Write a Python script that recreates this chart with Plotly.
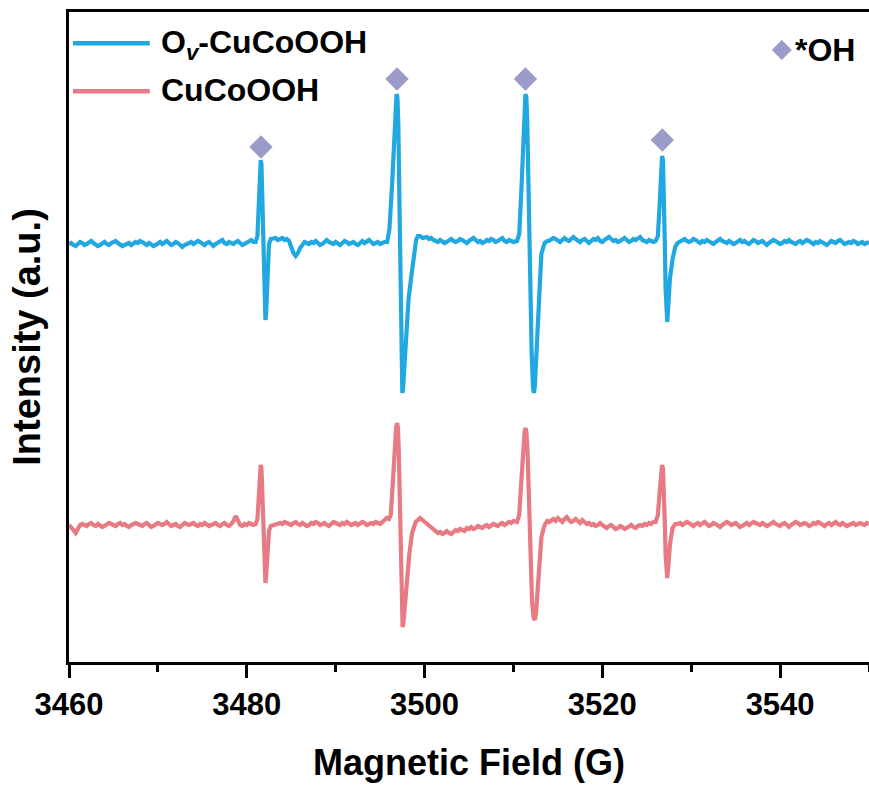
import plotly.graph_objects as go

STEP = 0.25  # G between successive baseline readings

# ---------------- O_v-CuCoOOH (blue), values relative to its baseline ----------------
ov_seg_a_start = 3460.0
ov_seg_a = [0, 1, -1, -2, 0, 2, 1, -1, 0, 1, 3, 1, -1, -2, -1, 1, 2, 0, -1, 1,
            2, 3, 1, 0, -2, -1, 0, 1, -1, 0, 2, 1, 3, 2, 0, -1, 1, 0, -2, -1,
            1, 2, 0, 1, 3, 1, -1, 0, 2, 1, -1, -3, -1, 0, 1, 2, 0, 1, 3, 2,
            0, -1, 1, 2, 0, -2, 0, 1, 3, 4, 1, 0, 2, 1, 0, 2, 3, 1, -1, 0,
            1, 2, 4, 2]
ov_seg_b_start = 3483.0
ov_seg_b = [5, 6, 4, 5, 6, 4, 5, 3,
            -3, -9, -12, -9, -4, 0, 2, 1,
            0, 2, 1, 3, 1, -1, 0, 2, 4, 2, 1, 0, 2, 1, -1, 1, 3, 2, 0, 1,
            2, 0, -1, 1, 3, 1, 2, 4, 2, 0, 1, 2, 0, 1, 2]
ov_seg_c_start = 3500.0
ov_seg_c = [6, 7, 5, 6, 4, 3, 2, 4, 3, 1, 2, 4, 5, 3, 2, 3, 5, 4, 2, 1,
            3, 4, 6, 4, 2, 3, 1, 2, 4, 3, 5, 4, 2, 3, 5, 6, 3, 2, 4, 3, 2]
ov_seg_d_start = 3514.0
ov_seg_d = [3, 4, 6, 5, 3, 2, 4, 6, 4, 3, 5, 7, 5, 3, 2, 4, 5, 3, 1, 3,
            5, 4, 6, 3, 2, 4, 5, 7, 5, 3, 4, 2, 3, 5, 6, 4, 2, 3, 5, 4,
            6, 7, 4, 3, 2, 4, 3, 2]
ov_seg_e_start = 3529.0
ov_seg_e = [4, 5, 3, 2, 3, 5, 4, 2, 1, 3, 2, 4, 3, 1, 0, 2, 3, 5, 3, 2,
            1, 3, 2, 0, 1, 3, 4, 2, 3, 1, 0, 2, 4, 3, 1, 2, 3, 1, -1, 1,
            2, 4, 3, 2, 0, 1, 3, 2, 4, 2, 1, 0, 2, 3, 1, 2, 4, 3, 1, 0,
            2, 1, 3, 2, 0, -1, 1, 3, 2, 1, 3, 4, 2, 0, 1, 2, 1, 3, 2, 0,
            1, 2, 0, 1, 2]

ov_p1_x = [3481.0, 3481.2, 3481.35, 3481.47, 3481.57, 3481.65, 3481.75, 3481.85, 3481.95, 3482.03, 3482.1, 3482.18,
           3482.3, 3482.5, 3482.7]
ov_p1_v = [2, 8, 40, 72, 84, 80, 45, -20, -62, -75, -76, -68, -35, 0, 5]
ov_p2_x = [3495.8, 3496.05, 3496.35, 3496.6, 3496.75, 3496.85, 3496.95, 3497.05, 3497.18, 3497.3, 3497.42, 3497.5,
           3497.58, 3497.7, 3497.9, 3498.2, 3498.5, 3498.8, 3499.05, 3499.25, 3499.5, 3499.8]
ov_p2_v = [2, 15, 60, 110, 140, 150, 146, 120, 40, -60, -135, -149, -145, -125, -90, -55, -33, -10, 4, 8, 8, 6]
ov_p3_x = [3510.4, 3510.65, 3510.9, 3511.1, 3511.25, 3511.35, 3511.45, 3511.55, 3511.7, 3511.85, 3512.05, 3512.2,
           3512.3, 3512.4, 3512.55, 3512.8, 3513.14, 3513.5, 3513.8]
ov_p3_v = [3, 10, 55, 110, 140, 150, 147, 125, 55, -30, -110, -143, -149, -143, -115, -60, -10, 1, 3]
ov_p4_x = [3526.0, 3526.25, 3526.45, 3526.6, 3526.72, 3526.82, 3526.92, 3527.02, 3527.12, 3527.22, 3527.3, 3527.42,
           3527.6, 3527.9, 3528.2, 3528.46]
ov_p4_v = [3, 8, 40, 75, 88, 84, 55, 5, -45, -74, -78, -62, -35, -15, -3, 1]

# ---------------- CuCoOOH (red), values relative to its baseline ----------------
cu_seg_a_start = 3460.0
cu_seg_a = [0, -2, -5, -8, -3, 0, 1, 0, -1, 1, 2, 0, -1, 1, 0, -2, -1, 1, 2, 1,
            0, -1, 1, 2, 0, 1, -1, -2, 0, 1, 2, 1, 0, -1, 1, 2, 0, -2, -1, 1,
            2, 1, 0, 1, 3, 1, -1, 0, 1, -1, -2, 0, 2, 1, 0, 1, 2, 0, -1, 1,
            0, 2, 1, -1, 0, 1, 2, 0, -1, 1, 2, 0, -1, 1, 4, 9, 3, 0, -1, 1,
            0, 2, 1, 0]
cu_seg_b_start = 3483.25
cu_seg_b = [0, 1, 2, 1, 3, 2, 1, 0, 2, 3, 1, 0, 2, 1, -1, 0, 2, 1, 3, 2,
            0, 1, 2, 0, -1, 1, 3, 2, 1, 0, 2, 1, 3, 1, 0, 1, 2, 0, 1, 3,
            2, 0, 1, 2, 1, 3, 2, 1, 3, 5, 7]
cu_seg_c_start = 3500.25
cu_seg_c = [2, 0, -2, -4, -6, -8, -7, -9, -8, -6, -8, -9, -7, -5, -6, -4, -5, -6, -3, -4,
            -2, -4, -3, -1, -2, -3, -1, 0, -2, -1, 1, 0, -1, 1, 2, 0, 1, 3, 2, 4]
cu_seg_d_start = 3514.0
cu_seg_d = [3, 5, 6, 4, 7, 5, 3, 6, 8, 5, 3, 4, 6, 4, 2, 5, 3, 1, 2, 0,
            1, -1, 0, 2, 0, -2, -3, -1, 0, -2, -4, -3, -1, -2, -4, -3, -1, 0, -2, -3,
            -1, 0, -1, 1, 0, 2, 1, 3]
cu_seg_e_start = 3528.5
cu_seg_e = [1, 2, 0, 1, 3, 2, 0, -1, 1, 2, 0, 1, 3, 1, -1, 0, 2, 1, -1, -2,
            0, 1, 3, 2, 0, 1, 2, 0, -2, -1, 1, 2, 0, 1, 3, 2, 1, 0, 2, 1,
            -1, 0, 2, 3, 1, 0, -1, 1, 2, 0, -2, 0, 1, 3, 2, 0, 1, 2, 1, -1,
            0, 2, 1, 3, 2, 0, -1, 1, 2, 0, 1, 3, 1, 0, 2, 1, -1, 0, 1, 2,
            0, 1, 2, 1, 0, 2, 1]

cu_p1_x = [3481.0, 3481.2, 3481.35, 3481.47, 3481.57, 3481.65, 3481.75, 3481.85, 3481.95, 3482.03, 3482.1, 3482.18,
           3482.3, 3482.5, 3482.7, 3483.0]
cu_p1_v = [1, 6, 28, 50, 60, 57, 30, -15, -45, -56, -58, -50, -25, -6, -1, 0]
cu_p2_x = [3496.0, 3496.2, 3496.45, 3496.65, 3496.8, 3496.9, 3497.0, 3497.1, 3497.22, 3497.34, 3497.45, 3497.53,
           3497.62, 3497.75, 3497.95, 3498.3, 3498.6, 3499.0, 3499.5, 3499.9]
cu_p2_v = [6, 10, 45, 80, 97, 102, 98, 75, 10, -60, -97, -102, -98, -85, -60, -28, -8, 3, 7, 4]
cu_p3_x = [3510.4, 3510.65, 3510.9, 3511.1, 3511.25, 3511.35, 3511.45, 3511.58, 3511.72, 3511.9, 3512.1, 3512.28,
           3512.4, 3512.52, 3512.65, 3512.85, 3513.15, 3513.5, 3513.8]
cu_p3_v = [3, 10, 45, 78, 93, 97, 94, 75, 30, -35, -78, -93, -95, -90, -75, -45, -12, 0, 4]
cu_p4_x = [3526.0, 3526.25, 3526.45, 3526.6, 3526.72, 3526.82, 3526.92, 3527.02, 3527.12, 3527.22, 3527.3, 3527.42,
           3527.6, 3527.9, 3528.2]
cu_p4_v = [3, 10, 33, 52, 60, 57, 38, 5, -30, -50, -53, -42, -20, -3, 1]

# vertical stacking offsets of the two spectra
OV_OFFSET = 418
CU_OFFSET = 137

# *OH marker positions (field, intensity on the stacked scale)
oh_field = [3481.6, 3496.9, 3511.35, 3526.75]
oh_height = [515, 583, 583, 522]

x_ticks = [3460, 3480, 3500, 3520, 3540]

BLUE = "#21A8E1"
RED = "#E87A84"
LAV = "#9B9BCA"
FONT = "Liberation Sans, Arial, sans-serif"


def assemble(segments, peaks, offset):
    pts = []
    for start, vals in segments:
        for i, v in enumerate(vals):
            pts.append((start + i * STEP, v))
    for xs, vs in peaks:
        pts.extend(zip(xs, vs))
    pts.sort()
    return [p[0] for p in pts], [p[1] + offset for p in pts]


ov_x, ov_y = assemble(
    [(ov_seg_a_start, ov_seg_a), (ov_seg_b_start, ov_seg_b), (ov_seg_c_start, ov_seg_c),
     (ov_seg_d_start, ov_seg_d), (ov_seg_e_start, ov_seg_e)],
    [(ov_p1_x, ov_p1_v), (ov_p2_x, ov_p2_v), (ov_p3_x, ov_p3_v), (ov_p4_x, ov_p4_v)],
    OV_OFFSET)
cu_x, cu_y = assemble(
    [(cu_seg_a_start, cu_seg_a), (cu_seg_b_start, cu_seg_b), (cu_seg_c_start, cu_seg_c),
     (cu_seg_d_start, cu_seg_d), (cu_seg_e_start, cu_seg_e)],
    [(cu_p1_x, cu_p1_v), (cu_p2_x, cu_p2_v), (cu_p3_x, cu_p3_v), (cu_p4_x, cu_p4_v)],
    CU_OFFSET)

fig = go.Figure()
fig.add_trace(go.Scatter(x=cu_x, y=cu_y, mode="lines", name="CuCoOOH",
                         line=dict(color=RED, width=4.2), showlegend=False))
fig.add_trace(go.Scatter(x=ov_x, y=ov_y, mode="lines", name="O<sub><i>v</i></sub>-CuCoOOH",
                         line=dict(color=BLUE, width=4.2), showlegend=False))
fig.add_trace(go.Scatter(x=oh_field, y=oh_height, mode="markers", name="*OH",
                         marker=dict(symbol="diamond", size=18, color=LAV), showlegend=False))

# hand-placed legend (paper coordinates)
legend_items = [("O<sub><i>v</i></sub>-CuCoOOH", BLUE, 0.952, 0.950),
                ("CuCoOOH", RED, 0.878, 0.880)]
shapes = []
annotations = []
for label, col, ly, ty in legend_items:
    shapes.append(dict(type="line", xref="paper", yref="paper", x0=0.005, x1=0.101, y0=ly, y1=ly,
                       line=dict(color=col, width=4.5)))
    annotations.append(dict(xref="paper", yref="paper", x=0.112, y=ty, xanchor="left", yanchor="middle",
                            text=label, showarrow=False,
                            font=dict(family=FONT, size=32, color="black", weight="bold")))
# *OH key
cx, cy, hx, hy = 0.891, 0.9415, 0.0125, 0.0155
shapes.append(dict(type="path", xref="paper", yref="paper",
                   path=f"M{cx - hx},{cy} L{cx},{cy + hy} L{cx + hx},{cy} L{cx},{cy - hy} Z",
                   fillcolor=LAV, line=dict(width=0)))
annotations.append(dict(xref="paper", yref="paper", x=0.905, y=0.9415, xanchor="left", yanchor="middle",
                        text="*OH", showarrow=False,
                        font=dict(family=FONT, size=32, color="black", weight="bold")))

fig.update_layout(
    width=869, height=785,
    margin=dict(l=69, r=0, t=12, b=123),
    paper_bgcolor="white", plot_bgcolor="white",
    shapes=shapes, annotations=annotations,
    font=dict(family=FONT, color="black"),
)
fig.update_xaxes(
    range=[3460, 3550], tickvals=x_ticks, ticktext=[str(t) for t in x_ticks],
    showgrid=False, zeroline=False,
    showline=True, linecolor="black", linewidth=3, mirror=True,
    ticks="outside", ticklen=13, tickwidth=2.5, tickcolor="black",
    minor=dict(dtick=10, tick0=3460, ticks="outside", ticklen=7, tickwidth=2.5, tickcolor="black"),
    tickfont=dict(family=FONT, size=31, color="black", weight="bold"),
    title=dict(text="Magnetic Field (G)", standoff=29,
               font=dict(family=FONT, size=36, color="black", weight="bold")),
)
fig.update_yaxes(
    range=[0, 650], showticklabels=False, ticks="",
    showgrid=False, zeroline=False,
    showline=True, linecolor="black", linewidth=3, mirror=False,
    title=dict(text="Intensity (a.u.)", standoff=14,
               font=dict(family=FONT, size=38, color="black", weight="bold")),
)

# page set-up: no body margin and no scrollbars, so the figure fills the window exactly
fig.write_html("out.html",
               config={"displayModeBar": False},
               post_script="document.body.style.margin='0';document.body.style.overflow='hidden';")
